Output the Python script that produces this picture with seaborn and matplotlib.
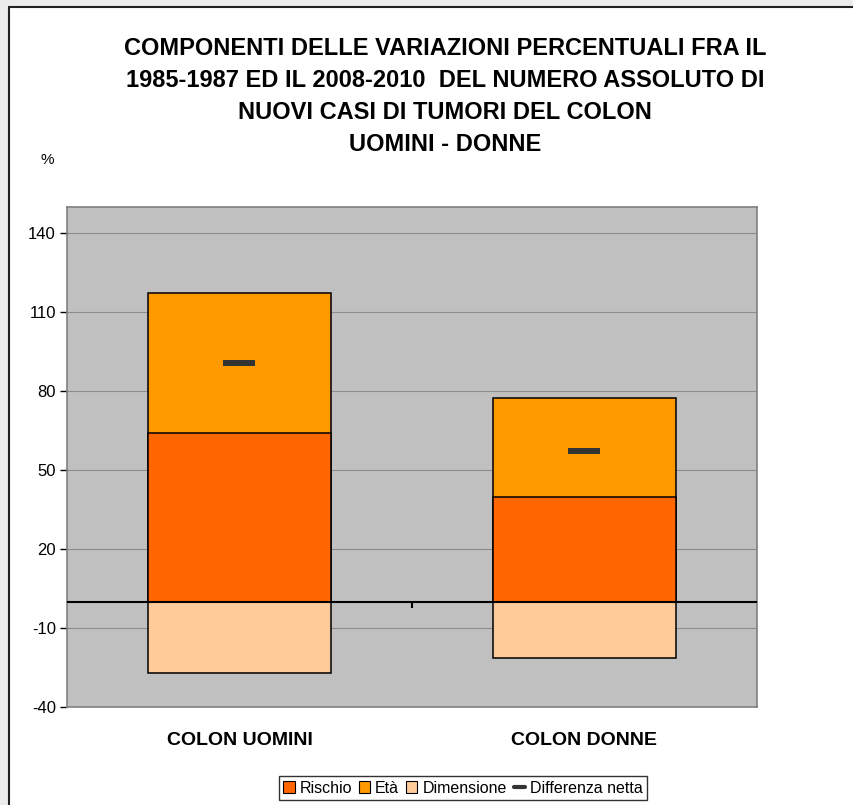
import matplotlib.pyplot as plt
import seaborn as sns
import pandas as pd
import numpy as np
from matplotlib.patches import Patch, Rectangle
from matplotlib.lines import Line2D

# values (%)
categories = ["COLON UOMINI", "COLON DONNE"]
rischio = [64.0, 39.7]
eta = [53.4, 37.9]
dimensione = [-26.9, -21.2]
differenza_netta = [90.8, 57.1]
yticks = [-40, -10, 20, 50, 80, 110, 140]

col_rischio = "#FF6600"
col_eta = "#FF9900"
col_dim = "#FFCC99"
col_net = "#333333"

sns.set_theme(style="white")
plt.rcParams["font.family"] = ["Liberation Sans", "DejaVu Sans"]
plt.rcParams["axes.unicode_minus"] = False
plt.rcParams["text.color"] = "black"
plt.rcParams["xtick.color"] = "black"
plt.rcParams["ytick.color"] = "black"

df = pd.DataFrame({
    "cat": categories,
    "rischio": rischio,
    "totale": np.array(rischio) + np.array(eta),
    "dimensione": dimensione,
    "netta": differenza_netta,
})

W, H = 854, 805
fig = plt.figure(figsize=(W / 100, H / 100), dpi=100)
fig.patch.set_facecolor("white")
# worksheet margins and chart frame (top and left edges only visible)
fig.patches.append(Rectangle((0, 0), 9 / W, 1, transform=fig.transFigure,
                             facecolor="#ECECEC", edgecolor="none"))
fig.patches.append(Rectangle((0, 1 - 6 / H), 1, 6 / H, transform=fig.transFigure,
                             facecolor="#ECECEC", edgecolor="none"))
fig.lines.append(Line2D([9 / W, 1], [1 - 7 / H, 1 - 7 / H], transform=fig.transFigure,
                        color="#222222", linewidth=1.5))
fig.lines.append(Line2D([9.5 / W, 9.5 / W], [0, 1 - 7 / H], transform=fig.transFigure,
                        color="#222222", linewidth=1.5))

ax = fig.add_axes([67 / W, 98 / H, 690 / W, 500 / H])
ax.set_facecolor("#C0C0C0")

bar_kw = dict(width=0.53, edgecolor="black", linewidth=1.1, ax=ax, zorder=3)
# Età stacked on top of Rischio: draw total first, then Rischio over it
sns.barplot(data=df, x="cat", y="totale", color=col_eta, saturation=1, **bar_kw)
sns.barplot(data=df, x="cat", y="rischio", color=col_rischio, saturation=1, **bar_kw)
sns.barplot(data=df, x="cat", y="dimensione", color=col_dim, saturation=1, **bar_kw)

# net difference marker: short thick dash
dash = [(-1, -0.19), (1, -0.19), (1, 0.19), (-1, 0.19)]
sns.scatterplot(data=df, x="cat", y="netta", marker=dash, s=560, color=col_net,
                linewidth=0, ax=ax, zorder=5)

ax.axhline(0, color="black", linewidth=1.5, zorder=4)
ax.vlines([0.5], -2.2, 0, color="black", linewidth=1.5, zorder=4)

ax.set_ylim(-40, 150)
ax.set_xlim(-0.5, 1.5)
ax.set_yticks(yticks)
ax.yaxis.grid(True, color="#8C8C8C", linewidth=0.8)
ax.set_axisbelow(True)
ax.tick_params(axis="y", which="both", left=True, length=5, width=1,
               color="black", labelsize=12, pad=3)
ax.tick_params(axis="x", bottom=False, pad=12)
for lbl in ax.get_xticklabels():
    lbl.set_fontweight("bold")
    lbl.set_fontsize(14)
ax.set_xlabel("")
ax.set_ylabel("")
for sp in ax.spines.values():
    sp.set_color("#808080")
    sp.set_linewidth(1.2)

fig.text(445 / W, 1 - 96.5 / H,
         "COMPONENTI DELLE VARIAZIONI PERCENTUALI FRA IL\n"
         "1985-1987 ED IL 2008-2010  DEL NUMERO ASSOLUTO DI\n"
         "NUOVI CASI DI TUMORI DEL COLON\n"
         "UOMINI - DONNE",
         ha="center", va="center", fontsize=17, fontweight="bold",
         linespacing=1.5)
fig.text(47 / W, 1 - 160 / H, "%", ha="center", va="center", fontsize=11)

handles = [
    Patch(facecolor=col_rischio, edgecolor="black", linewidth=0.8, label="Rischio"),
    Patch(facecolor=col_eta, edgecolor="black", linewidth=0.8, label="Età"),
    Patch(facecolor=col_dim, edgecolor="black", linewidth=0.8, label="Dimensione"),
    Line2D([], [], color=col_net, linewidth=3, label="Differenza netta"),
]
leg = fig.legend(handles=handles, loc="center", bbox_to_anchor=(463 / W, 1 - 788 / H),
                 ncol=4, fontsize=11.5, frameon=True, fancybox=False,
                 handlelength=0.7, handleheight=0.7, handletextpad=0.3,
                 columnspacing=0.45, borderpad=0.3)
leg.get_frame().set_edgecolor("black")
leg.get_frame().set_linewidth(1)

fig.savefig("out.png", dpi=100)
